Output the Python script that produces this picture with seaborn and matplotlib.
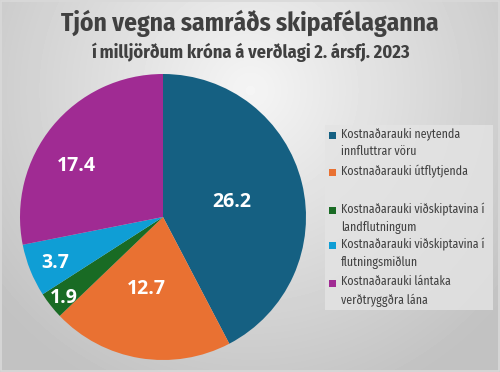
import numpy as np
import matplotlib
matplotlib.use("Agg")
import matplotlib.pyplot as plt
import seaborn as sns
from matplotlib.patches import Rectangle

sns.set_theme(style="white")

# ---- data ----
categories = [
    "Kostnaðarauki neytenda\ninnfluttrar vöru",
    "Kostnaðarauki útflytjenda",
    "Kostnaðarauki viðskiptavina í\nlandflutningum",
    "Kostnaðarauki viðskiptavina í\nflutningsmiðlun",
    "Kostnaðarauki lántaka\nverðtryggðra lána",
]
values = [26.2, 12.7, 1.9, 3.7, 17.4]
title = "Tjón vegna samráðs skipafélaganna"
subtitle = "í milljörðum króna á verðlagi 2. ársfj. 2023"

# ---- styles ----
colors = ["#156082", "#E97132", "#196B24", "#0F9ED5", "#A02B93"]
label_r = [0.49, 0.52, 0.90, 0.82, 0.70]
label_dang = [-1.5, -4.0, 1.0, 1.0, 9.0]

FAM = ["Fira Sans Condensed", "Open Sans", "DejaVu Sans"]
plt.rcParams["font.family"] = FAM

W, H = 500, 372
fig = plt.figure(figsize=(W / 100, H / 100), dpi=100)

# background gradient
bg = fig.add_axes([0, 0, 1, 1])
yy, xx = np.mgrid[0:H, 0:W]
d = np.sqrt((xx - 250) ** 2 + (yy - 90) ** 2)
t = np.clip(d / 330.0, 0, 1)
g = 0.96 - t * (0.96 - 0.76)
bg.imshow(g, cmap="gray", vmin=0, vmax=1, extent=[0, W, H, 0], aspect="auto")
bg.add_patch(Rectangle((0.5, 0.5), W - 1.5, H - 1.5, fill=False, ec="#d9d9d9", lw=1.2))
bg.set_xlim(0, W)
bg.set_ylim(H, 0)
bg.axis("off")

# pie axes: center (163,217), radius 143
cx, cy, R = 163, 217, 143
ax = fig.add_axes([(cx - R) / W, 1 - (cy + R) / H, 2 * R / W, 2 * R / H])
ax.set_facecolor("none")
wedges, _ = ax.pie(values, colors=colors, startangle=90, counterclock=False,
                   radius=1.0, wedgeprops=dict(linewidth=0))
for w, v, r, da in zip(wedges, values, label_r, label_dang):
    ang = np.deg2rad((w.theta1 + w.theta2) / 2 + da)
    ax.text(r * np.cos(ang), r * np.sin(ang), f"{v:.1f}", ha="center", va="center",
            color="white", fontsize=14, fontweight="bold", family=["Open Sans", "DejaVu Sans"])
ax.set_xlim(-1, 1)
ax.set_ylim(-1, 1)
ax.set_aspect("equal")

# titles
fig.text(0.5, 1 - 23 / H, title, ha="center", va="center", fontsize=18.3,
         fontweight="bold", color="#404040")
fig.text(0.5, 1 - 52 / H, subtitle, ha="center", va="center", fontsize=13.2,
         fontweight="bold", color="#404040")

# legend (manual)
bg.add_patch(Rectangle((325, 125), 168, 185, fc="#e4e4e4", ec="none", alpha=0.8))
ys = [135, 172, 210, 245, 283]
for c, lab, y in zip(colors, categories, ys):
    bg.add_patch(Rectangle((329, y - 3.5), 7, 7, fc=c, ec="none"))
    bg.text(341, y - 7.5, lab, ha="left", va="top", fontsize=8.6, color="#404040",
            linespacing=1.55)

fig.savefig("out.png", dpi=100)
